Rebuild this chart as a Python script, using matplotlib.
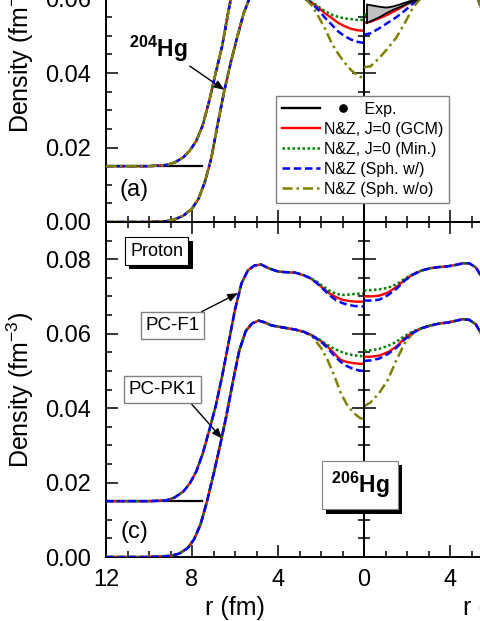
import numpy as np
import matplotlib
matplotlib.use("Agg")
import matplotlib.pyplot as plt
import matplotlib.patheffects as pe
from matplotlib.lines import Line2D
from matplotlib.legend_handler import HandlerLine2D
from matplotlib.ticker import MultipleLocator, FormatStrFormatter

plt.rcParams['font.family'] = ['Liberation Sans', 'DejaVu Sans']
plt.rcParams['mathtext.fontset'] = 'custom'
plt.rcParams['mathtext.rm'] = 'Liberation Sans'
plt.rcParams['mathtext.bf'] = 'Liberation Sans:bold'
plt.rcParams['mathtext.it'] = 'Liberation Sans:italic'

OFFSET = 0.015          # PC-F1 curves are shifted up by this amount
base_r = [12, 7.55]     # short black reference line at the offset

# ---------------- panel (a): 204Hg ----------------
# PC-PK1, left half (r from 12 down to 0)
a_pk1_tail_r = [12, 10, 9.2, 8.8, 8.4, 8.0, 7.7, 7.4, 7.1, 6.8, 6.5, 6.2, 5.9, 5.6, 5.3, 5.0, 4.6, 4.2, 3.8, 3.4, 3.0, 2.7]
a_pk1_tail = [0, 0, 0.0002, 0.0007, 0.0017, 0.0036, 0.0062, 0.0108, 0.0172, 0.0265, 0.0352, 0.0428, 0.0496, 0.0560, 0.0605, 0.0628, 0.0636, 0.0628, 0.0624, 0.0620, 0.0610, 0.0598]
a_pk1_core_r = [2.4, 2.1, 1.8, 1.5, 1.2, 0.9, 0.6, 0.3, 0]
a_pk1_gcm = [0.0588, 0.0575, 0.0560, 0.0548, 0.0535, 0.0526, 0.0519, 0.0515, 0.0514]
a_pk1_min = [0.0590, 0.0578, 0.0566, 0.0557, 0.0551, 0.0547, 0.0545, 0.0543, 0.0543]
a_pk1_sphw = [0.0586, 0.0568, 0.0548, 0.0530, 0.0512, 0.0499, 0.0490, 0.0484, 0.0481]
a_pk1_spho = [0.0580, 0.0550, 0.0518, 0.0480, 0.0452, 0.0428, 0.0408, 0.0393, 0.0386]
# PC-PK1, right half
a_pk1_rcore_r = [0, 0.3, 0.7, 1.1, 1.5, 1.9, 2.3]
a_pk1_rgcm = [0.0535, 0.0538, 0.0547, 0.0557, 0.0569, 0.0582, 0.0594]
a_pk1_rmin = [0.0557, 0.0559, 0.0564, 0.0570, 0.0578, 0.0587, 0.0596]
a_pk1_rsphw = [0.0503, 0.0507, 0.0520, 0.0535, 0.0550, 0.0568, 0.0588]
a_pk1_rspho = [0.0416, 0.0418, 0.0440, 0.0466, 0.0495, 0.0535, 0.0578]
a_pk1_rtail_r = [2.7, 3.1, 3.5, 3.9, 4.3, 4.7, 5.0, 5.3, 5.6, 5.9, 6.3, 6.7, 7.1, 7.6, 8.2, 9.0, 12]
a_pk1_rtail = [0.0605, 0.0615, 0.0622, 0.0627, 0.0632, 0.0636, 0.0628, 0.0598, 0.0555, 0.0495, 0.0405, 0.0300, 0.0200, 0.0100, 0.0030, 0.0003, 0]
# PC-F1, left half (all models coincide here)
a_f1_r = [12, 10, 9.2, 8.8, 8.4, 8.1, 7.8, 7.5, 7.2, 6.9, 6.6, 6.3, 6.0, 5.7, 5.4, 5.1, 4.8, 4.4, 4.0, 3.6, 3.2, 2.8]
a_f1 = [0, 0, 0.0003, 0.0010, 0.0024, 0.0042, 0.0068, 0.0110, 0.0175, 0.0250, 0.0322, 0.0418, 0.0505, 0.0575, 0.0615, 0.0632, 0.0637, 0.0628, 0.0622, 0.0620, 0.0615, 0.0605]
# experimental band (right half)
exp_r = [0.15, 0.45, 0.75, 1.05, 1.35, 1.7, 2.0, 2.3, 2.6]
exp_hi = [0.0584, 0.0581, 0.0578, 0.0576, 0.0579, 0.0585, 0.0591, 0.0596, 0.0602]
exp_lo = [0.0535, 0.0543, 0.0551, 0.0561, 0.0570, 0.0578, 0.0586, 0.0593, 0.0600]

# ---------------- panel (c): 206Hg ----------------
c_pk1_tail_r = [12, 10, 9.0, 8.6, 8.2, 7.9, 7.6, 7.3, 7.0, 6.7, 6.4, 6.1, 5.8, 5.5, 5.2, 4.9, 4.6, 4.3, 4.0, 3.6, 3.2, 2.8]
c_pk1_tail = [0, 0, 0.0003, 0.0009, 0.0024, 0.0048, 0.0088, 0.0150, 0.0222, 0.0298, 0.0380, 0.0470, 0.0555, 0.0607, 0.0628, 0.0635, 0.0630, 0.0622, 0.0619, 0.0615, 0.0611, 0.0605]
c_pk1_core_r = [2.4, 2.0, 1.7, 1.4, 1.1, 0.8, 0.5, 0.2, 0]
c_pk1_gcm = [0.0595, 0.0580, 0.0566, 0.0548, 0.0530, 0.0524, 0.0521, 0.0519, 0.0519]
c_pk1_min = [0.0595, 0.0582, 0.0570, 0.0560, 0.0552, 0.0546, 0.0542, 0.0540, 0.0540]
c_pk1_sphw = [0.0594, 0.0578, 0.0562, 0.0542, 0.0525, 0.0513, 0.0505, 0.0501, 0.0500]
c_pk1_spho = [0.0592, 0.0562, 0.0530, 0.0490, 0.0443, 0.0410, 0.0388, 0.0374, 0.0370]
c_pk1_rcore_r = [0, 0.3, 0.7, 1.1, 1.5, 1.9, 2.3]
c_pk1_rgcm = [0.0538, 0.0538, 0.0541, 0.0550, 0.0565, 0.0588, 0.0605]
c_pk1_rmin = [0.0554, 0.0555, 0.0559, 0.0567, 0.0578, 0.0594, 0.0607]
c_pk1_rsphw = [0.0527, 0.0528, 0.0533, 0.0545, 0.0562, 0.0585, 0.0603]
c_pk1_rspho = [0.0405, 0.0415, 0.0440, 0.0475, 0.0528, 0.0575, 0.0603]
c_pk1_rtail_r = [2.7, 3.1, 3.5, 3.9, 4.3, 4.6, 4.9, 5.2, 5.5, 5.8, 6.2, 6.6, 7.0, 7.5, 8.1, 9.0, 12]
c_pk1_rtail = [0.0615, 0.0622, 0.0627, 0.0630, 0.0635, 0.0639, 0.0637, 0.0625, 0.0595, 0.0540, 0.0450, 0.0330, 0.0220, 0.0110, 0.0035, 0.0003, 0]

c_f1_tail_r = [12, 10, 9.2, 8.8, 8.4, 8.1, 7.8, 7.5, 7.2, 6.9, 6.6, 6.3, 6.0, 5.7, 5.4, 5.1, 4.8, 4.4, 4.0, 3.6, 3.2, 2.8]
c_f1_tail = [0, 0, 0.0002, 0.0010, 0.0026, 0.0048, 0.0080, 0.0128, 0.0190, 0.0255, 0.0335, 0.0425, 0.0515, 0.0585, 0.0620, 0.0633, 0.0636, 0.0625, 0.0617, 0.0615, 0.0614, 0.0607]
c_f1_core_r = [2.5, 2.2, 1.9, 1.6, 1.3, 1.0, 0.7, 0.4, 0]
c_f1_gcm = [0.0599, 0.0587, 0.0572, 0.0558, 0.0548, 0.0541, 0.0538, 0.0536, 0.0536]
c_f1_min = [0.0600, 0.0590, 0.0577, 0.0565, 0.0557, 0.0554, 0.0555, 0.0557, 0.0558]
c_f1_sphw = [0.0599, 0.0586, 0.0570, 0.0553, 0.0540, 0.0532, 0.0527, 0.0524, 0.0523]
c_f1_rcore_r = [0, 0.3, 0.7, 1.1, 1.5, 1.9, 2.3]
c_f1_rgcm = [0.0550, 0.0550, 0.0552, 0.0560, 0.0575, 0.0595, 0.0610]
c_f1_rmin = [0.0566, 0.0567, 0.0569, 0.0573, 0.0582, 0.0598, 0.0611]
c_f1_rsphw = [0.0539, 0.0539, 0.0541, 0.0553, 0.0570, 0.0593, 0.0609]
c_f1_rtail_r = [2.7, 3.1, 3.5, 3.9, 4.3, 4.6, 4.9, 5.2, 5.5, 5.8, 6.2, 6.6, 7.0, 7.5, 8.1, 9.0, 12]
c_f1_rtail = [0.0620, 0.0626, 0.0629, 0.0631, 0.0635, 0.0639, 0.0639, 0.0628, 0.0600, 0.0550, 0.0460, 0.0345, 0.0235, 0.0120, 0.0040, 0.0004, 0]

legend_labels = ['         Exp.', 'N&Z, J=0 (GCM)', 'N&Z, J=0 (Min.)',
                 'N&Z (Sph. w/)', 'N&Z (Sph. w/o)']

style = {
    'gcm': dict(color='#ff0000', ls='-', lw=1.7),
    'min': dict(color='#008000', ls=(0, (1, 1)), lw=1.8),
    'sphw': dict(color='#0000ff', ls=(0, (3, 1.5)), lw=1.8),
    'spho': dict(color='#808000', ls=(0, (4, 1.6, 1, 1.6)), lw=1.8),
}


class HandlerLineDot(HandlerLine2D):
    """Line handle followed by a separate dot, as in the 'Exp.' entry."""
    def create_artists(self, legend, orig_handle, xdescent, ydescent,
                       width, height, fontsize, trans):
        arts = super().create_artists(legend, orig_handle, xdescent, ydescent,
                                      width, height, fontsize, trans)
        dot = Line2D([width - xdescent + 16.5], [height / 2 - ydescent],
                     marker='o', ms=5.2, color='k', ls='none', transform=trans)
        return list(arts) + [dot]


def setup(ax, left, xlabels):
    ax.set_ylim(0, 0.09)
    ax.set_xlim((12, 0) if left else (0, 12))
    ax.xaxis.set_major_locator(MultipleLocator(4))
    ax.xaxis.set_minor_locator(MultipleLocator(1))
    ax.yaxis.set_major_locator(MultipleLocator(0.02))
    ax.yaxis.set_minor_locator(MultipleLocator(0.005))
    ax.tick_params(which='both', direction='in', top=True, bottom=True,
                   left=True, right=True, width=1.1)
    ax.tick_params(which='major', length=8.5)
    ax.tick_params(which='minor', length=4.3)
    ax.tick_params(axis='x', labelsize=17, pad=8.5)
    ax.tick_params(axis='y', labelsize=17, pad=10.5)
    for sp in ax.spines.values():
        sp.set_linewidth(1.4)
    if left:
        ax.yaxis.set_major_formatter(FormatStrFormatter('%.2f'))
        ax.set_ylabel('Density (fm$^{-3}$)', fontsize=18)
        ax.yaxis.set_label_coords(-0.27, 0.5)
    else:
        ax.tick_params(labelleft=False)
    if xlabels:
        if not left:
            ax.set_xticks([0, 4, 8, 12])
            ax.set_xticklabels(['', '4', '8', '12'])
        ax.set_xlabel('r (fm)', fontsize=18, labelpad=4)
    else:
        ax.tick_params(labelbottom=False)


def draw(ax, r_parts, y_parts, key, shift=0.0, z=2):
    r = np.concatenate(r_parts)
    y = np.concatenate(y_parts) + shift
    ax.plot(r, y, zorder=z, **style[key])


fig = plt.figure(figsize=(4.8, 6.21), dpi=100)
W, H = 480.0, 621.0
axw, axh = 258 / W, 335 / H
c_bot = 64 / H
a_bot = c_bot + axh
axA_l = fig.add_axes([106 / W, a_bot, axw, axh])
axA_r = fig.add_axes([364 / W, a_bot, axw, axh])
axC_l = fig.add_axes([106 / W, c_bot, axw, axh])
axC_r = fig.add_axes([364 / W, c_bot, axw, axh])
for ax in (axA_l, axA_r, axC_l, axC_r):
    ax.patch.set_alpha(0)

setup(axA_l, True, False)
setup(axA_r, False, False)
setup(axC_l, True, True)
setup(axC_r, False, True)

# ---- panel (a) ----
order_a = [('gcm', 2), ('min', 3), ('sphw', 4), ('spho', 5)]
a_left = {'gcm': a_pk1_gcm, 'min': a_pk1_min, 'sphw': a_pk1_sphw, 'spho': a_pk1_spho}
a_right = {'gcm': a_pk1_rgcm, 'min': a_pk1_rmin, 'sphw': a_pk1_rsphw, 'spho': a_pk1_rspho}
for key, z in order_a:
    draw(axA_l, [a_f1_r], [a_f1], key, OFFSET, z)
    draw(axA_l, [a_pk1_tail_r, a_pk1_core_r], [a_pk1_tail, a_left[key]], key, 0, z)
    draw(axA_r, [a_pk1_rcore_r, a_pk1_rtail_r], [a_right[key], a_pk1_rtail], key, 0, z)
axA_l.plot(base_r, [OFFSET, OFFSET], color='k', lw=1.6, zorder=1.5)
axA_r.fill_between(exp_r, exp_lo, exp_hi, color='#c0c0c0', lw=0, zorder=6)
axA_r.plot(exp_r, exp_hi, color='k', lw=1.3, zorder=7)
axA_r.plot(exp_r, exp_lo, color='k', lw=1.3, zorder=7)
axA_r.plot([exp_r[0], exp_r[0]], [exp_lo[0], exp_hi[0]], color='k', lw=1.3, zorder=7)

axA_l.text(10.7, 0.0086, '(a)', fontsize=17, ha='center', va='center')
axA_l.annotate(r'$^{\mathbf{204}}$Hg', xy=(6.5, 0.0355), xytext=(8.23, 0.0424),
               fontsize=16.5, fontweight='bold', ha='right', va='bottom',
               arrowprops=dict(arrowstyle='-|>,head_length=0.5,head_width=0.2',
                               color='k', lw=1, relpos=(1, 0), shrinkA=0,
                               shrinkB=0, mutation_scale=12))

# ---- panel (c) ----
order_c = [('spho', 2), ('gcm', 3), ('min', 4), ('sphw', 5)]
c_left = {'gcm': c_pk1_gcm, 'min': c_pk1_min, 'sphw': c_pk1_sphw, 'spho': c_pk1_spho}
c_right = {'gcm': c_pk1_rgcm, 'min': c_pk1_rmin, 'sphw': c_pk1_rsphw, 'spho': c_pk1_rspho}
cf_left = {'gcm': c_f1_gcm, 'min': c_f1_min, 'sphw': c_f1_sphw}
cf_right = {'gcm': c_f1_rgcm, 'min': c_f1_rmin, 'sphw': c_f1_rsphw}
for key, z in order_c:
    draw(axC_l, [c_pk1_tail_r, c_pk1_core_r], [c_pk1_tail, c_left[key]], key, 0, z)
    draw(axC_r, [c_pk1_rcore_r, c_pk1_rtail_r], [c_right[key], c_pk1_rtail], key, 0, z)
    if key in cf_left:
        draw(axC_l, [c_f1_tail_r, c_f1_core_r], [c_f1_tail, cf_left[key]], key, OFFSET, z)
        draw(axC_r, [c_f1_rcore_r, c_f1_rtail_r], [cf_right[key], c_f1_rtail], key, OFFSET, z)
axC_l.plot(base_r, [OFFSET, OFFSET], color='k', lw=1.6, zorder=1.5)

axC_l.text(10.7, 0.0067, '(c)', fontsize=17, ha='center', va='center')
t = axC_l.text(9.65, 0.0822, 'Proton', fontsize=13, ha='center', va='center',
               bbox=dict(boxstyle='square,pad=0.3', fc='white', ec='k', lw=0.8))
t.get_bbox_patch().set_path_effects([pe.SimplePatchShadow(offset=(3, -3), shadow_rgbFace='k', alpha=1.0), pe.Normal()])

arrow = dict(arrowstyle='-|>,head_length=0.5,head_width=0.2', color='k', lw=1,
             shrinkA=0, shrinkB=0, mutation_scale=12)
axC_l.annotate('PC-F1', xy=(5.86, 0.0709), xytext=(8.91, 0.0622), fontsize=13.5,
               ha='center', va='center',
               bbox=dict(boxstyle='square,pad=0.25', fc='white', ec='#808080', lw=1),
               arrowprops=dict(relpos=(0.85, 1.0), **arrow))
axC_l.annotate('PC-PK1', xy=(6.6, 0.0318), xytext=(9.37, 0.045), fontsize=13.5,
               ha='center', va='center',
               bbox=dict(boxstyle='square,pad=0.25', fc='white', ec='#808080', lw=1),
               arrowprops=dict(relpos=(0.85, 0.0), **arrow))

t2 = fig.text(0.19, 0.0193, r'$^{\mathbf{206}}$Hg', transform=axC_l.transData,
              fontsize=16.5, fontweight='bold', ha='center', va='center', zorder=10,
              bbox=dict(boxstyle='square,pad=0.4', fc='white', ec='#808080', lw=0.8))
t2.get_bbox_patch().set_path_effects([pe.SimplePatchShadow(offset=(3, -3), shadow_rgbFace='k', alpha=1.0), pe.Normal()])

# ---- legend ----
exp_handle = Line2D([], [], color='k', lw=1.7)
handles = [exp_handle] + [Line2D([], [], **style[k]) for k in ('gcm', 'min', 'sphw', 'spho')]
fig.legend(handles, legend_labels, loc='upper left', bbox_to_anchor=(276 / W, 1 - 96 / H),
           fontsize=11.5, frameon=True, fancybox=False, edgecolor='#808080',
           framealpha=1, borderpad=0.35, borderaxespad=0, handlelength=2.4,
           handletextpad=0.25, labelspacing=0.32,
           handler_map={exp_handle: HandlerLineDot()})

fig.savefig('out.png', dpi=100)
